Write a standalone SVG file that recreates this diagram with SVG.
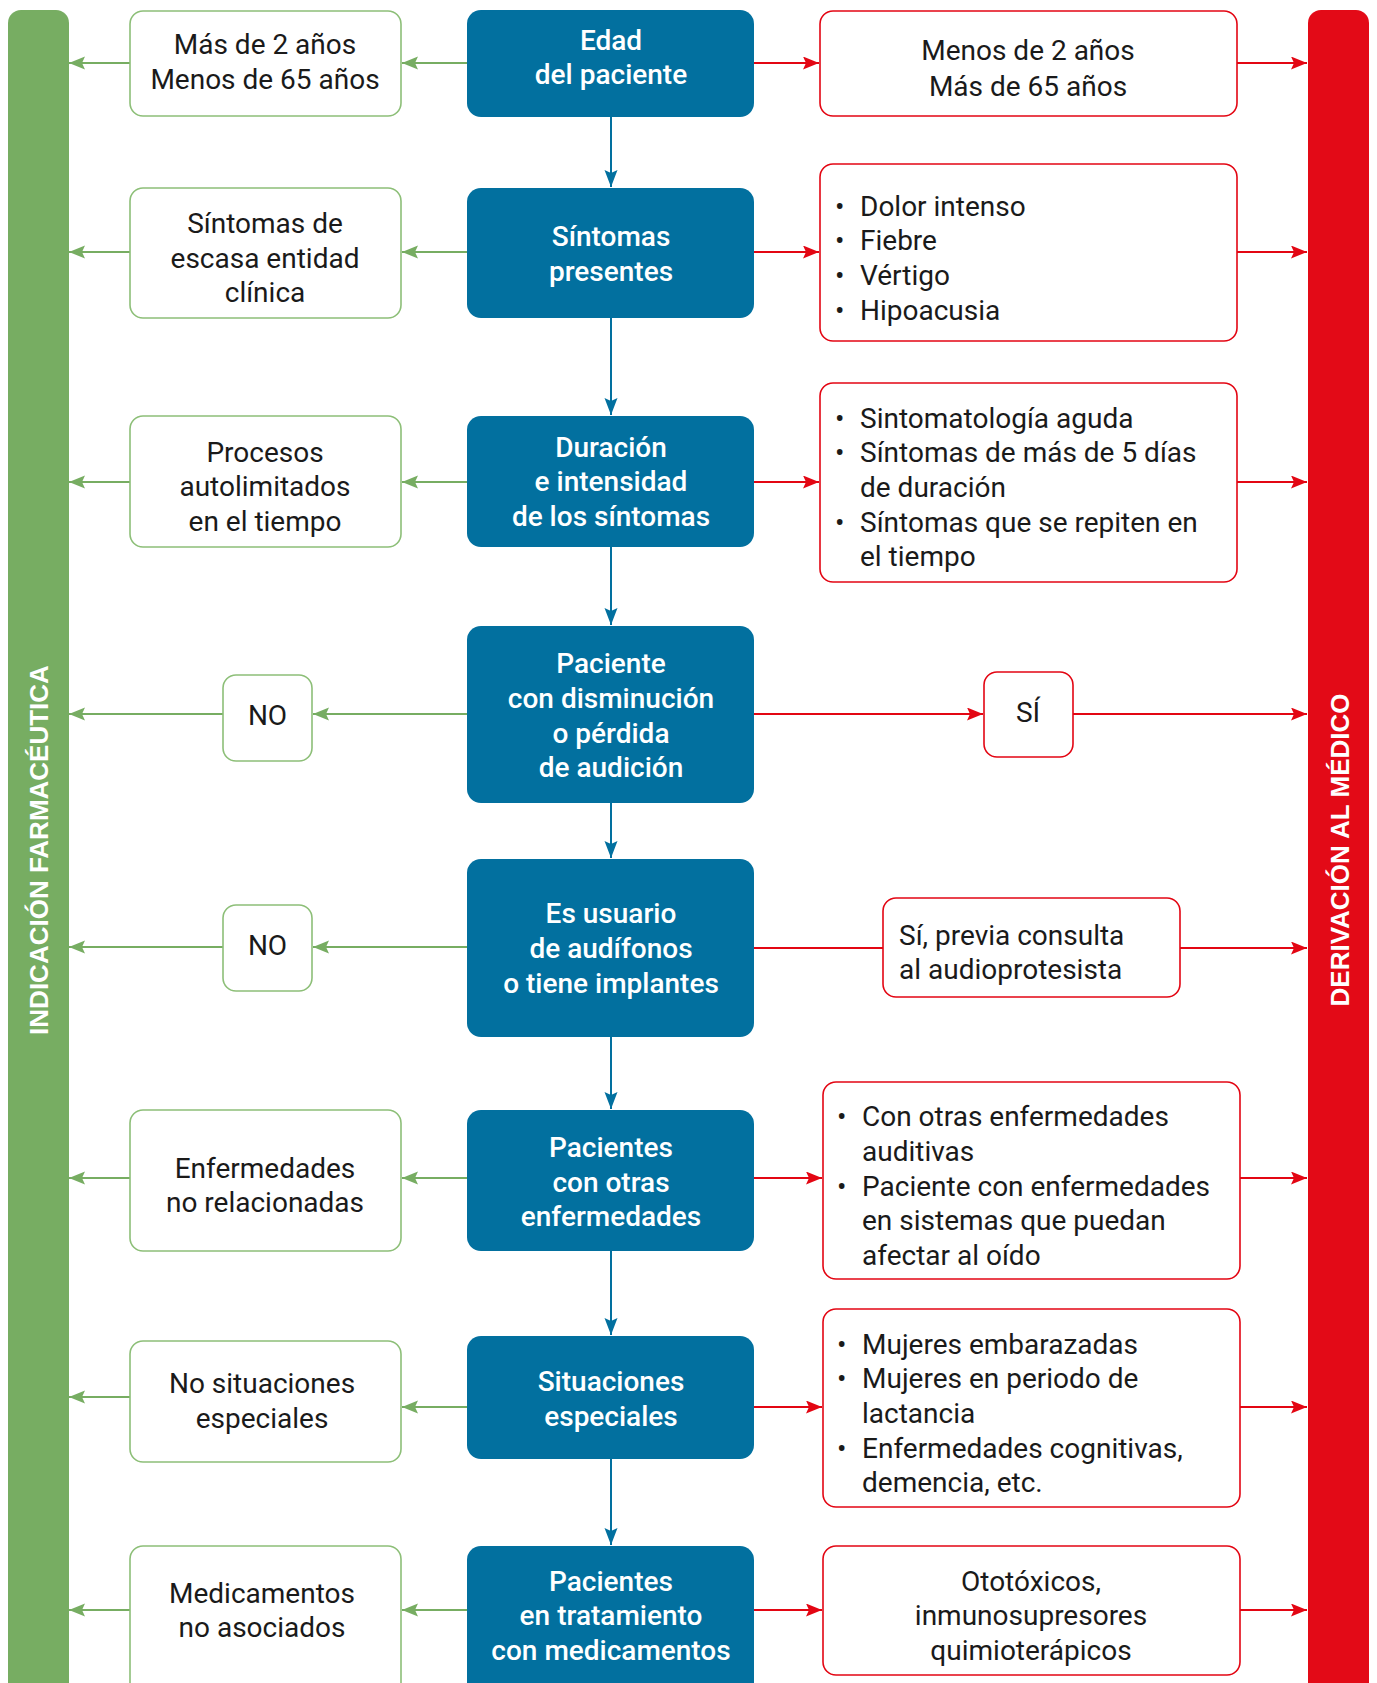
<svg xmlns="http://www.w3.org/2000/svg" width="1377" height="1683" viewBox="0 0 1377 1683">
<style>
text{font-family:Roboto,"Liberation Sans",sans-serif;font-size:28px;}
.b rect{fill:#02709f;}
.b text{fill:#fff;font-weight:500;text-anchor:middle;}
.g rect{fill:#fff;stroke:#8dbf78;stroke-width:1.6;}
.r rect{fill:#fff;stroke:#e30613;stroke-width:1.6;}
.g text,.r text{fill:#1a1a1a;}
.c{text-anchor:middle;}
.bar{font-family:"Liberation Sans",Arial,sans-serif;font-weight:bold;font-size:26px;fill:#fff;text-anchor:middle;}
.lb{stroke:#02709f;stroke-width:2;fill:none;marker-end:url(#ab);}
.lg{stroke:#77ad62;stroke-width:2.2;fill:none;marker-end:url(#ag);}
.lr{stroke:#e30613;stroke-width:2.2;fill:none;marker-end:url(#ar);}
.lrn{stroke:#e30613;stroke-width:2.2;fill:none;}
</style>
<defs>
<marker id="ab" markerUnits="userSpaceOnUse" markerWidth="18" markerHeight="14" refX="17" refY="6.5" orient="auto"><path d="M0,0 L17,6.5 L0,13 L3,6.5 z" fill="#02709f"/></marker>
<marker id="ag" markerUnits="userSpaceOnUse" markerWidth="18" markerHeight="14" refX="16" refY="6.5" orient="auto"><path d="M0,0 L16,6.5 L0,13 L3,6.5 z" fill="#77ad62"/></marker>
<marker id="ar" markerUnits="userSpaceOnUse" markerWidth="18" markerHeight="14" refX="16" refY="6.5" orient="auto"><path d="M0,0 L16,6.5 L0,13 L3,6.5 z" fill="#e30613"/></marker>
</defs>
<rect width="1377" height="1683" fill="#fff"/>

<g id="bar-left">
<rect x="8" y="10" width="61" height="1690" rx="13" fill="#77ad62"/>
<text class="bar" transform="translate(48,850) rotate(-90)">INDICACIÓN FARMACÉUTICA</text>
</g>
<g id="bar-right">
<rect x="1308" y="10" width="61" height="1690" rx="13" fill="#e30a17"/>
<text class="bar" transform="translate(1349,850) rotate(-90)">DERIVACIÓN AL MÉDICO</text>
</g>

<g id="connectors">
<path class="lb" d="M611,116 V187"/>
<path class="lb" d="M611,318 V415"/>
<path class="lb" d="M611,547 V625"/>
<path class="lb" d="M611,803 V858"/>
<path class="lb" d="M611,1037 V1109"/>
<path class="lb" d="M611,1251 V1335"/>
<path class="lb" d="M611,1459 V1545"/>

<path class="lg" d="M467,63 H402"/>
<path class="lg" d="M130,63 H69"/>
<path class="lg" d="M467,252 H402"/>
<path class="lg" d="M130,252 H69"/>
<path class="lg" d="M467,482 H402"/>
<path class="lg" d="M130,482 H69"/>
<path class="lg" d="M467,714 H313"/>
<path class="lg" d="M223,714 H69"/>
<path class="lg" d="M467,947 H313"/>
<path class="lg" d="M223,947 H69"/>
<path class="lg" d="M467,1178 H402"/>
<path class="lg" d="M130,1178 H69"/>
<path class="lg" d="M467,1407 H402"/>
<path class="lg" d="M130,1397 H69"/>
<path class="lg" d="M467,1610 H402"/>
<path class="lg" d="M130,1610 H69"/>

<path class="lr" d="M754,63 H819"/>
<path class="lr" d="M1237,63 H1307"/>
<path class="lr" d="M754,252 H819"/>
<path class="lr" d="M1237,252 H1307"/>
<path class="lr" d="M754,482 H819"/>
<path class="lr" d="M1237,482 H1307"/>
<path class="lr" d="M754,714 H983"/>
<path class="lr" d="M1073,714 H1307"/>
<path class="lrn" d="M754,948 H883"/>
<path class="lr" d="M1180,948 H1307"/>
<path class="lr" d="M754,1178 H822"/>
<path class="lr" d="M1240,1178 H1307"/>
<path class="lr" d="M754,1407 H822"/>
<path class="lr" d="M1240,1407 H1307"/>
<path class="lr" d="M754,1610 H822"/>
<path class="lr" d="M1240,1610 H1307"/>
</g>

<g id="n-edad" class="b"><rect x="467" y="10" width="287" height="107" rx="14"/><text x="611" y="50">Edad</text><text x="611" y="84">del paciente</text></g>
<g id="n-sintomas" class="b"><rect x="467" y="188" width="287" height="130" rx="14"/><text x="611" y="246">Síntomas</text><text x="611" y="281">presentes</text></g>
<g id="n-duracion" class="b"><rect x="467" y="416" width="287" height="131" rx="14"/><text x="611" y="457">Duración</text><text x="611" y="491">e intensidad</text><text x="611" y="526">de los síntomas</text></g>
<g id="n-audicion" class="b"><rect x="467" y="626" width="287" height="177" rx="14"/><text x="611" y="673">Paciente</text><text x="611" y="708">con disminución</text><text x="611" y="743">o pérdida</text><text x="611" y="777">de audición</text></g>
<g id="n-audifonos" class="b"><rect x="467" y="859" width="287" height="178" rx="14"/><text x="611" y="923">Es usuario</text><text x="611" y="958">de audífonos</text><text x="611" y="993">o tiene implantes</text></g>
<g id="n-otras" class="b"><rect x="467" y="1110" width="287" height="141" rx="14"/><text x="611" y="1157">Pacientes</text><text x="611" y="1192">con otras</text><text x="611" y="1226">enfermedades</text></g>
<g id="n-situaciones" class="b"><rect x="467" y="1336" width="287" height="123" rx="14"/><text x="611" y="1391">Situaciones</text><text x="611" y="1426">especiales</text></g>
<g id="n-tratamiento" class="b"><rect x="467" y="1546" width="287" height="150" rx="14"/><text x="611" y="1591">Pacientes</text><text x="611" y="1625">en tratamiento</text><text x="611" y="1660">con medicamentos</text></g>

<g id="l-edad" class="g"><rect x="130" y="11" width="271" height="105" rx="13"/><text class="c" x="265" y="54">Más de 2 años</text><text class="c" x="265" y="89">Menos de 65 años</text></g>
<g id="l-sintomas" class="g"><rect x="130" y="188" width="271" height="130" rx="13"/><text class="c" x="265" y="233">Síntomas de</text><text class="c" x="265" y="268">escasa entidad</text><text class="c" x="265" y="302">clínica</text></g>
<g id="l-duracion" class="g"><rect x="130" y="416" width="271" height="131" rx="13"/><text class="c" x="265" y="462">Procesos</text><text class="c" x="265" y="496">autolimitados</text><text class="c" x="265" y="531">en el tiempo</text></g>
<g id="l-no1" class="g"><rect x="223" y="675" width="89" height="86" rx="13"/><text class="c" x="267.5" y="725">NO</text></g>
<g id="l-no2" class="g"><rect x="223" y="905" width="89" height="86" rx="13"/><text class="c" x="267.5" y="955">NO</text></g>
<g id="l-otras" class="g"><rect x="130" y="1110" width="271" height="141" rx="13"/><text class="c" x="265" y="1178">Enfermedades</text><text class="c" x="265" y="1212">no relacionadas</text></g>
<g id="l-situaciones" class="g"><rect x="130" y="1341" width="271" height="121" rx="13"/><text class="c" x="262" y="1393">No situaciones</text><text class="c" x="262" y="1428">especiales</text></g>
<g id="l-medicamentos" class="g"><rect x="130" y="1546" width="271" height="150" rx="13"/><text class="c" x="262" y="1603">Medicamentos</text><text class="c" x="262" y="1637">no asociados</text></g>

<g id="r-edad" class="r"><rect x="820" y="11" width="417" height="105" rx="13"/><text class="c" x="1028" y="60">Menos de 2 años</text><text class="c" x="1028" y="96">Más de 65 años</text></g>
<g id="r-sintomas" class="r"><rect x="820" y="164" width="417" height="177" rx="13"/>
<text x="835" y="216">•</text><text x="860" y="216">Dolor intenso</text>
<text x="835" y="250">•</text><text x="860" y="250">Fiebre</text>
<text x="835" y="285">•</text><text x="860" y="285">Vértigo</text>
<text x="835" y="320">•</text><text x="860" y="320">Hipoacusia</text></g>
<g id="r-duracion" class="r"><rect x="820" y="383" width="417" height="199" rx="13"/>
<text x="835" y="428">•</text><text x="860" y="428">Sintomatología aguda</text>
<text x="835" y="462">•</text><text x="860" y="462">Síntomas de más de 5 días</text>
<text x="860" y="497">de duración</text>
<text x="835" y="532">•</text><text x="860" y="532">Síntomas que se repiten en</text>
<text x="860" y="566">el tiempo</text></g>
<g id="r-si" class="r"><rect x="984" y="672" width="89" height="85" rx="13"/><text class="c" x="1028" y="722">SÍ</text></g>
<g id="r-audifonos" class="r"><rect x="883" y="898" width="297" height="99" rx="13"/><text x="899" y="945">Sí, previa consulta</text><text x="899" y="979">al audioprotesista</text></g>
<g id="r-otras" class="r"><rect x="823" y="1082" width="417" height="197" rx="13"/>
<text x="837" y="1126">•</text><text x="862" y="1126">Con otras enfermedades</text>
<text x="862" y="1161">auditivas</text>
<text x="837" y="1196">•</text><text x="862" y="1196">Paciente con enfermedades</text>
<text x="862" y="1230">en sistemas que puedan</text>
<text x="862" y="1265">afectar al oído</text></g>
<g id="r-situaciones" class="r"><rect x="823" y="1309" width="417" height="198" rx="13"/>
<text x="837" y="1354">•</text><text x="862" y="1354">Mujeres embarazadas</text>
<text x="837" y="1388">•</text><text x="862" y="1388">Mujeres en periodo de</text>
<text x="862" y="1423">lactancia</text>
<text x="837" y="1458">•</text><text x="862" y="1458">Enfermedades cognitivas,</text>
<text x="862" y="1492">demencia, etc.</text></g>
<g id="r-tratamiento" class="r"><rect x="823" y="1546" width="417" height="129" rx="13"/><text class="c" x="1031" y="1591">Ototóxicos,</text><text class="c" x="1031" y="1625">inmunosupresores</text><text class="c" x="1031" y="1660">quimioterápicos</text></g>
</svg>
